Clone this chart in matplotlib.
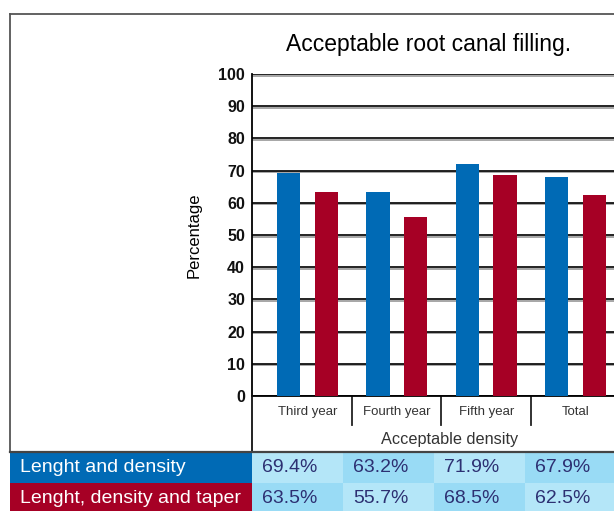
import numpy as np
import matplotlib.pyplot as plt
import matplotlib.patheffects as pe
from matplotlib.patches import Rectangle
from matplotlib.lines import Line2D

plt.rcParams['font.family'] = ['Liberation Sans', 'DejaVu Sans']

categories = ['Third year', 'Fourth year', 'Fifth year', 'Total']
length_density = [69.4, 63.2, 71.9, 67.9]
length_density_taper = [63.5, 55.7, 68.5, 62.5]
series_names = ['Lenght and density', 'Lenght, density and taper']
yticks = list(range(0, 101, 10))

blue = '#006ab5'
red = '#a60025'
cell_light = '#b4e6f8'
cell_dark = '#99dbf5'
txt_navy = '#2d3072'

W, H = 614, 511
fig = plt.figure(figsize=(6.14, 5.11), dpi=100)

# pixel -> figure fraction helpers
def fx(x): return x / W
def fy(y): return 1 - y / H

ax = fig.add_axes([fx(252), fy(396), 1 - fx(252), fy(74) - fy(396)])
x = np.arange(len(categories))
ax.bar(x - 0.21, length_density, 0.26, color=blue, zorder=3)
ax.bar(x + 0.21, length_density_taper, 0.26, color=red, zorder=3)
ax.set_xlim(-0.62, 3.43)
ax.set_ylim(0, 100)
ax.set_yticks(yticks)
ax.set_yticklabels([str(t) for t in yticks], fontsize=11.5, fontweight='bold', color='#111')
ax.tick_params(axis='y', length=0, pad=5)
ax.set_xticks(x)
ax.set_xticklabels(categories, fontsize=9.5, color='#333')
ax.tick_params(axis='x', length=0, pad=7)
ax.yaxis.grid(True, color='#111', lw=1.3, zorder=0,
              path_effects=[pe.SimpleLineShadow(offset=(0, -1.2), shadow_color='#888', alpha=0.8),
                            pe.Normal()])
ax.set_axisbelow(True)
for s in ['top', 'right']:
    ax.spines[s].set_visible(False)
ax.spines['left'].set_linewidth(1.3)
ax.spines['bottom'].set_linewidth(1.3)
ax.set_ylabel('Percentage', fontsize=12)
ax.yaxis.set_label_coords((202 - 252) / 362, 0.5)

# category separators under the axis
for s in [0.5, 1.5, 2.5]:
    ax.plot([s, s], [0, -9], color='#222', lw=1.3, clip_on=False)

fig.text(fx(450), fy(439), 'Acceptable density', fontsize=11.7, color='#333',
         ha='center', va='center')
fig.text(fx(429), fy(44), 'Acceptable root canal filling.', fontsize=16.5,
         ha='center', va='center')

# frame lines
fig.add_artist(Line2D([fx(10), 1], [fy(14), fy(14)], color='#555', lw=1.3))
fig.add_artist(Line2D([fx(10), fx(10)], [fy(14), fy(452)], color='#555', lw=1.3))
fig.add_artist(Line2D([fx(252), fx(252)], [fy(396), fy(452)], color='#111', lw=1.3))

# table below the chart
row_tops = [452, 483]
row_h = 31
col_edges = [252, 343, 434, 525, 614]
rows = [length_density, length_density_taper]
row_colors = [blue, red]
for r, vals in enumerate(rows):
    top = row_tops[r]
    fig.add_artist(Rectangle((fx(10), fy(top + row_h)), fx(252) - fx(10),
                             fy(top) - fy(top + row_h), color=row_colors[r], lw=0))
    fig.text(fx(20), fy(top + 15.5), series_names[r], color='white', fontsize=14,
             ha='left', va='center')
    for c, v in enumerate(vals):
        col = cell_light if (r + c) % 2 == 0 else cell_dark
        x0, x1 = col_edges[c], col_edges[c + 1]
        fig.add_artist(Rectangle((fx(x0), fy(top + row_h)), fx(x1) - fx(x0),
                                 fy(top) - fy(top + row_h), color=col, lw=0))
        fig.text(fx(x0 + 10), fy(top + 15.5), f'{v:.1f}%', color=txt_navy,
                 fontsize=14, ha='left', va='center')

fig.add_artist(Line2D([fx(10), 1], [fy(452), fy(452)], color='#444', lw=1.6))

fig.savefig('out.png', dpi=100)
